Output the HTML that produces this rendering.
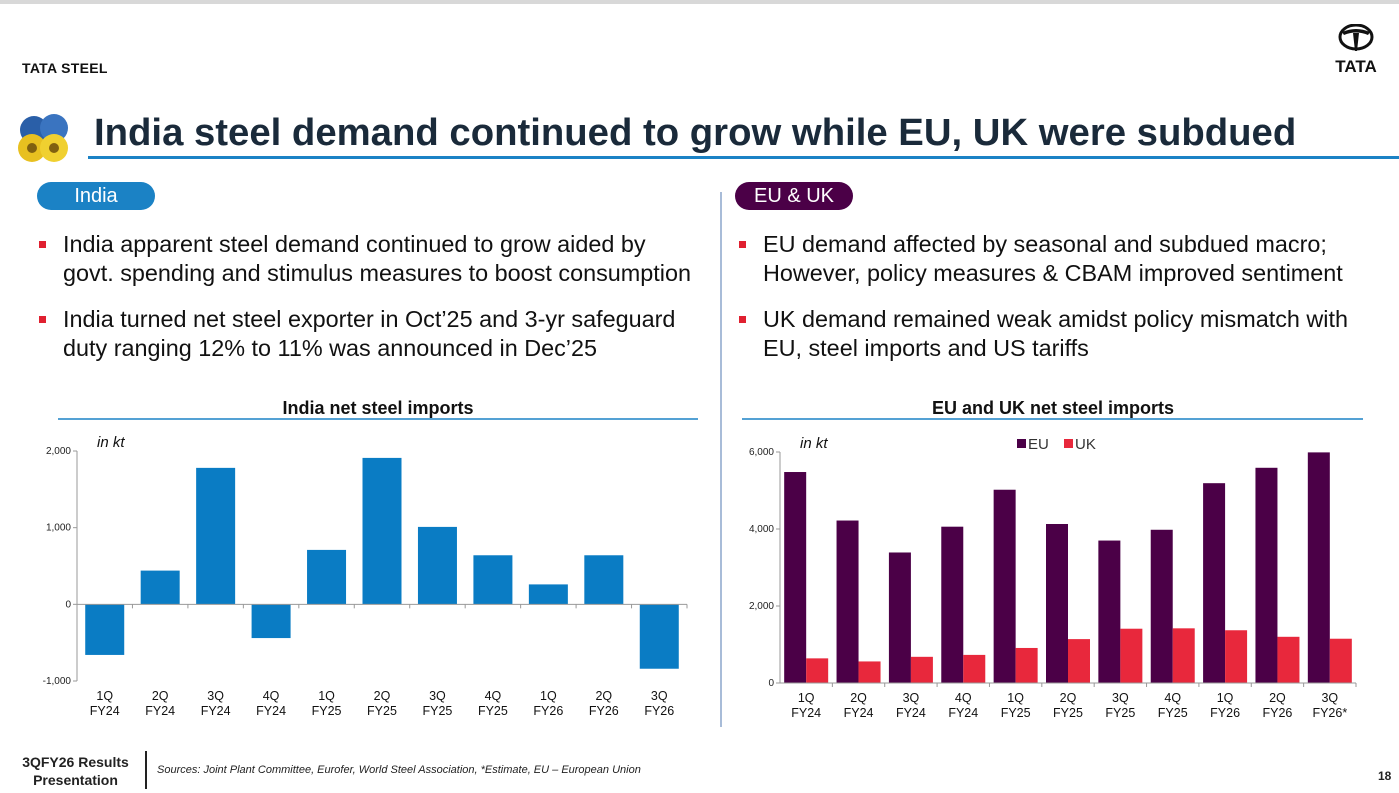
<!DOCTYPE html>
<html><head><meta charset="utf-8">
<style>
body{margin:0;width:1399px;height:793px;overflow:hidden;background:#fff;font-family:"Liberation Sans",Arial,sans-serif;position:relative}
.abs{position:absolute}
.pill{position:absolute;color:#fff;font-size:20px;text-align:center;border-radius:14px;line-height:28px;height:28px}
ul{margin:0;padding:0;list-style:none}
li{position:relative;padding-left:26px;font-size:23.4px;line-height:29px;color:#111;margin-bottom:17px}
li:before{content:"";position:absolute;left:2px;top:11px;width:7px;height:7px;background:#e02030}
</style></head><body>
<div class="abs" style="left:0;top:0;width:1399px;height:4px;background:#d8d8d8"></div>
<div class="abs" style="left:22px;top:60px;font-size:14px;font-weight:bold;color:#111;letter-spacing:0.3px">TATA STEEL</div>
<div class="abs" style="left:1326px;top:24px;width:60px;text-align:center">
<svg width="36" height="30" viewBox="0 0 36 30"><ellipse cx="18" cy="13" rx="16" ry="12" fill="none" stroke="#111" stroke-width="3"/><path d="M4 8 Q18 2 32 8 L30 11 Q18 6 6 11Z M15 9 L21 9 L19 27 L17 27Z" fill="#111"/></svg>
<div style="font-size:17px;font-weight:bold;color:#111;margin-top:-2px">TATA</div></div>
<div class="abs" style="left:14px;top:112px">
<svg width="68" height="52"><circle cx="20" cy="18" r="14" fill="#2a5fa8"/><circle cx="40" cy="16" r="14" fill="#3a74c0"/><circle cx="18" cy="36" r="14" fill="#e8c020"/><circle cx="40" cy="36" r="14" fill="#f0d030"/><circle cx="18" cy="36" r="5" fill="#806010"/><circle cx="40" cy="36" r="5" fill="#806010"/></svg></div>
<div class="abs" style="left:94px;top:111px;font-size:38.3px;font-weight:bold;color:#1a2a3a;white-space:nowrap">India steel demand continued to grow while EU, UK were subdued</div>
<div class="abs" style="left:88px;top:156px;width:1311px;height:3px;background:#1b82c5"></div>
<div class="pill" style="left:37px;top:182px;width:118px;background:#1b82c5">India</div>
<div class="pill" style="left:735px;top:182px;width:118px;background:#4b0047">EU &amp; UK</div>
<div class="abs" style="left:720px;top:192px;width:2px;height:535px;background:#a8bcd8"></div>
<ul class="abs" style="left:37px;top:230px;width:662px">
<li>India apparent steel demand continued to grow aided by govt. spending and stimulus measures to boost consumption</li>
<li>India turned net steel exporter in Oct’25 and 3-yr safeguard duty ranging 12% to 11% was announced in Dec’25</li></ul>
<ul class="abs" style="left:737px;top:230px;width:622px">
<li>EU demand affected by seasonal and subdued macro; However, policy measures &amp; CBAM improved sentiment</li>
<li>UK demand remained weak amidst policy mismatch with EU, steel imports and US tariffs</li></ul>
<svg class="abs" style="left:0;top:0" width="1399" height="793" id="charts"></svg>
<div class="abs" style="left:8px;top:753px;width:135px;text-align:center;font-size:14px;font-weight:bold;color:#222;line-height:18px">3QFY26 Results<br>Presentation</div>
<div class="abs" style="left:145px;top:751px;width:2px;height:38px;background:#222"></div>
<div class="abs" style="left:157px;top:764px;font-size:11px;font-style:italic;color:#222">Sources: Joint Plant Committee, Eurofer, World Steel Association, *Estimate, EU – European Union</div>
<div class="abs" style="left:1378px;top:769px;font-size:12px;font-weight:bold;color:#222">18</div>
<script>
const cats=["1Q|FY24","2Q|FY24","3Q|FY24","4Q|FY24","1Q|FY25","2Q|FY25","3Q|FY25","4Q|FY25","1Q|FY26","2Q|FY26","3Q|FY26"];
const cats2=["1Q|FY24","2Q|FY24","3Q|FY24","4Q|FY24","1Q|FY25","2Q|FY25","3Q|FY25","4Q|FY25","1Q|FY26","2Q|FY26","3Q|FY26*"];
const india=[-660,440,1780,-440,710,1910,1010,640,260,640,-840];
const indiaTicks=[-1000,0,1000,2000];
const eu=[5480,4220,3390,4060,5020,4130,3700,3980,5190,5590,5990];
const uk=[640,560,680,730,910,1140,1410,1420,1370,1200,1150];
const euTicks=[0,2000,4000,6000];
const svg=document.getElementById('charts');
const NS="http://www.w3.org/2000/svg";
function mk(t,a,txt){const e=document.createElementNS(NS,t);for(const k in a)e.setAttribute(k,a[k]);if(txt!==undefined)e.textContent=txt;svg.appendChild(e);return e;}
function fmt(v){return v.toLocaleString('en-US');}
function chart(o){
  const y=v=>o.y0-(v-o.min)/(o.max-o.min)*(o.y0-o.y1);
  const bw=(o.x1-o.xa)/o.cats.length;
  const x=i=>o.xa+bw*(i+0.5);
  let t=mk('text',{x:(o.tx),y:o.ty,'font-size':18,'font-weight':'bold','text-anchor':'middle',fill:'#111'},o.title);
  
  let l=mk('line',{x1:o.lx0,x2:o.lx1,y1:o.ty+5,y2:o.ty+5,stroke:'#1b82c5','stroke-width':1.5});
  
  let u=mk('text',{x:o.xa+20,y:o.y1-4,'font-size':15,'font-style':'italic',fill:'#111'},'in kt');
  
  o.ticks.forEach(v=>{let e=mk('text',{x:o.xa-6,y:y(v)+3,'font-size':10,'text-anchor':'end',fill:'#222'},fmt(v));
    
    mk('line',{x1:o.xa-4,x2:o.xa,y1:y(v),y2:y(v),stroke:'#999'});});
  o.series.forEach((s,si)=>{s.vals.forEach((v,i)=>{
    const w=o.barw, cx=x(i)+(o.series.length>1?(si-0.5)*w:0);
    const r=mk('rect',{x:cx-w/2,y:Math.min(y(v),y(0)),width:w,height:Math.abs(y(v)-y(0)),fill:s.color});
    });});
  mk('line',{x1:o.xa,x2:o.xa,y1:o.y1,y2:o.y0,stroke:'#999'});
  mk('line',{x1:o.xa,x2:o.x1,y1:y(0),y2:y(0),stroke:'#999'});
  o.cats.forEach((c,i)=>{mk('line',{x1:o.xa+bw*(i+1),x2:o.xa+bw*(i+1),y1:y(0),y2:y(0)+4,stroke:'#999'});
    const p=c.split('|');
    let a=mk('text',{x:x(i),y:o.y0+19,'font-size':12.5,'text-anchor':'middle',fill:'#111'},p[0]);
    
    let b=mk('text',{x:x(i),y:o.y0+34,'font-size':12.5,'text-anchor':'middle',fill:'#111'},p[1]);
    });
}
chart({name:'india-chart',title:'India net steel imports',tx:378,ty:414,lx0:58,lx1:698,cats:cats,xa:77,x1:687,y0:681,y1:451,min:-1000,max:2000,ticks:indiaTicks,barw:39,series:[{name:'india',vals:india,color:'#0a7cc4'}]});
chart({name:'eu-uk-chart',title:'EU and UK net steel imports',tx:1053,ty:414,lx0:742,lx1:1363,cats:cats2,xa:780,x1:1356,y0:683,y1:452,min:0,max:6000,ticks:euTicks,barw:22,series:[{name:'eu',vals:eu,color:'#4b0047'},{name:'uk',vals:uk,color:'#e8283c'}]});
let lg=[['EU','#4b0047',1017],['UK','#e8283c',1064]];
lg.forEach(d=>{let r=mk('rect',{x:d[2],y:439,width:9,height:9,fill:d[1]});
 let t=mk('text',{x:d[2]+11,y:449,'font-size':15,fill:'#333'},d[0]);});
</script>
</body></html>
